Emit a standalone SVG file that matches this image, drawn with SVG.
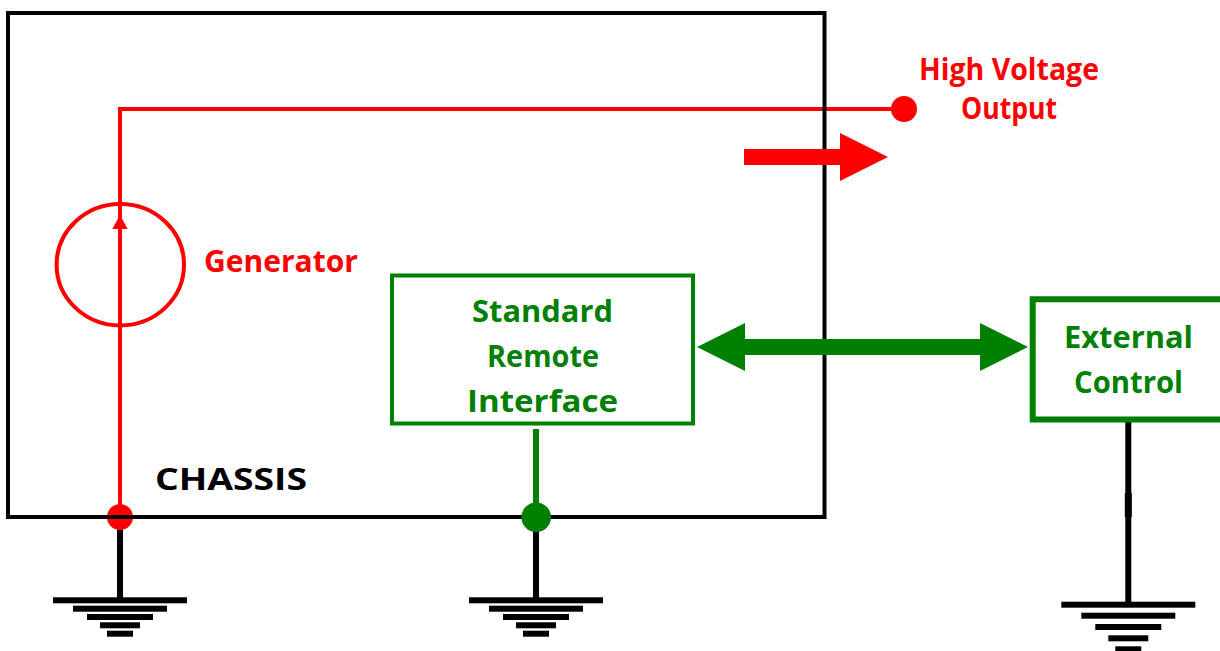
<svg xmlns="http://www.w3.org/2000/svg" width="1220" height="651" viewBox="0 0 1220 651">
<style>
text{font-family:"Open Sans","DejaVu Sans",sans-serif;font-weight:700;font-size:30px}
.r{fill:#f00}.g{fill:#008000}.k{fill:#000}
</style>
<defs>
<g id="gnd">
<rect x="-67" y="0" width="134" height="6"/>
<rect x="-47" y="8.400" width="94" height="6"/>
<rect x="-33" y="16.700" width="66" height="6"/>
<rect x="-20" y="25" width="40" height="6"/>
<rect x="-13" y="33.400" width="26" height="6"/>
</g>
</defs>
<rect width="1220" height="651" fill="#fff"/>
<g id="connectors">
<path d="M120 517V109H904" fill="none" stroke="#f00" stroke-width="4"/>
<path d="M536 429V517" fill="none" stroke="#008000" stroke-width="6"/>
<path d="M120 527V600M536 527V600M1128.300 420V604" fill="none" stroke="#000" stroke-width="6"/>
<path d="M1128.300 493V517" fill="none" stroke="#000" stroke-width="7"/>
<polygon points="120,215 127.700,229 112.300,229" fill="#f00"/>
</g>
<g id="chassis"><rect x="8" y="13" width="816.500" height="504" fill="none" stroke="#000" stroke-width="4"/><text x="155" y="490" class="k" textLength="152" lengthAdjust="spacingAndGlyphs">CHASSIS</text></g>
<g id="generator"><ellipse cx="120.300" cy="264.700" rx="63.700" ry="60.700" fill="none" stroke="#f00" stroke-width="4"/><text x="204" y="272" class="r" textLength="154" lengthAdjust="spacingAndGlyphs">Generator</text></g>
<g id="output-terminal"><circle cx="904" cy="109" r="13" fill="#f00"/><text x="919" y="80" class="r" textLength="180" lengthAdjust="spacingAndGlyphs">High Voltage</text><text x="961" y="119" class="r" textLength="96" lengthAdjust="spacingAndGlyphs">Output</text></g>
<g id="power-arrow"><polygon points="744,149 840,149 840,133 888,157 840,181 840,165 744,165" fill="#f00"/></g>
<g id="remote-interface"><rect x="392" y="275.500" width="301" height="148" fill="#fff" stroke="#008000" stroke-width="4"/><text x="472" y="322" class="g" textLength="141" lengthAdjust="spacingAndGlyphs">Standard</text><text x="487" y="367" class="g" textLength="112" lengthAdjust="spacingAndGlyphs">Remote</text><text x="467" y="412" class="g" textLength="151" lengthAdjust="spacingAndGlyphs">Interface</text></g>
<g id="control-arrow"><polygon points="697,347 745,323 745,339 980,339 980,323 1028,347 980,371 980,355 745,355 745,371" fill="#008000"/></g>
<g id="external-control"><path d="M1222 299.300H1032.700V419.500H1222" fill="#fff" stroke="#008000" stroke-width="6"/><text x="1064" y="348" class="g" textLength="129" lengthAdjust="spacingAndGlyphs">External</text><text x="1074" y="393" class="g" textLength="109" lengthAdjust="spacingAndGlyphs">Control</text></g>
<g id="chassis-node"><circle cx="120" cy="517" r="13" fill="#f00"/><rect x="107" y="515" width="26" height="4" fill="#000"/></g>
<g id="interface-node"><circle cx="536.200" cy="517.300" r="14.800" fill="#008000"/></g>
<g id="ground-1"><use href="#gnd" x="120" y="597.300"/></g>
<g id="ground-2"><use href="#gnd" x="536" y="597.300"/></g>
<g id="ground-3">
<rect x="1061.300" y="601.700" width="134" height="6"/>
<rect x="1081.300" y="612.700" width="94" height="6"/>
<rect x="1095.300" y="624" width="66" height="6"/>
<rect x="1108.300" y="635.300" width="40" height="6"/>
<rect x="1115.300" y="646.300" width="26" height="6"/>
</g>
</svg>
